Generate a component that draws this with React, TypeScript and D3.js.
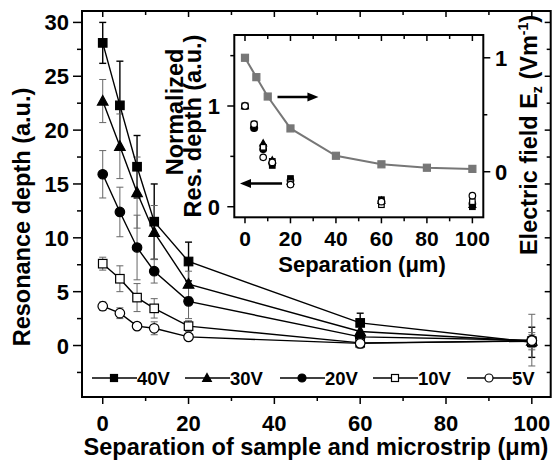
import React, { useRef, useEffect } from 'react';
import * as d3 from 'd3';

// separation (um) where resonance depth was measured
const separations = [0, 4, 8, 12, 20, 60, 100];

const seriesNames = ['40V', '30V', '20V', '10V', '5V'];
const depth40 = [28.1, 22.3, 16.6, 11.5, 7.8, 2.1, 0.3];
const depth30 = [22.7, 18.5, 14.2, 10.5, 5.7, 1.3, 0.4];
const depth20 = [15.9, 12.4, 9.1, 6.9, 4.1, 0.8, 0.5];
const depth10 = [7.6, 6.2, 4.45, 3.45, 1.8, 0.25, 0.4];
const depth5 = [3.65, 3.0, 1.8, 1.6, 0.8, 0.2, 0.45];

const err40 = [1.9, 4.1, 2.9, 3.5, 1.8, 0.9, 1.4];
const err30 = [2.0, 3.0, 3.3, 2.5, 1.2, 0.6, 0.8];
const err20 = [2.2, 2.3, 3.0, 1.1, 1.6, 0.5, 2.4];
const err10 = [0.6, 1.2, 1.3, 0.9, 0.5, 0.5, 0.6];
const err5 = [0.4, 0.5, 0.3, 0.6, 0.2, 0.3, 0.3];

// inset: normalized depth (left axis)
const norm40 = [1.0, 0.79, 0.59, 0.41, 0.28, 0.07, 0.0];
const norm30 = [1.0, 0.81, 0.63, 0.46, 0.25, 0.06, 0.02];
const norm20 = [1.0, 0.78, 0.57, 0.43, 0.26, 0.05, 0.03];
const norm10 = [1.0, 0.82, 0.59, 0.45, 0.24, 0.02, 0.05];
const norm5 = [1.0, 0.82, 0.49, 0.44, 0.22, 0.05, 0.11];

// inset: electric field Ez (right axis)
const fieldSep = [0, 5, 10, 20, 40, 60, 80, 100];
const fieldEz = [1.0, 0.83, 0.66, 0.38, 0.14, 0.065, 0.035, 0.025];

const FONT = '"Liberation Sans", Arial, sans-serif';
const W = 554;
const H = 460;
const TICK_FS = 22;
const TITLE_FS = 23.5;

const styles = [
  { shape: 'square', filled: true, errColor: '#000' },
  { shape: 'triangle', filled: true, errColor: '#666' },
  { shape: 'circle', filled: true, errColor: '#666' },
  { shape: 'square', filled: false, errColor: '#666' },
  { shape: 'circle', filled: false, errColor: '#666' },
];

function marker(g, shape, filled, cx, cy, s, color = '#000') {
  const fill = filled ? color : '#fff';
  if (shape === 'square') {
    g.append('rect').attr('x', cx - s / 2).attr('y', cy - s / 2)
      .attr('width', s).attr('height', s)
      .attr('fill', fill).attr('stroke', color).attr('stroke-width', 1.2);
  } else if (shape === 'circle') {
    g.append('circle').attr('cx', cx).attr('cy', cy).attr('r', s / 2 + 0.5)
      .attr('fill', fill).attr('stroke', color).attr('stroke-width', 1.2);
  } else {
    const h = s * 1.05;
    g.append('path')
      .attr('d', `M${cx},${cy - h * 0.62}L${cx + s * 0.62},${cy + h * 0.45}L${cx - s * 0.62},${cy + h * 0.45}Z`)
      .attr('fill', fill).attr('stroke', color).attr('stroke-width', 1.2);
  }
}

export default function App() {
  const svgRef = useRef();

  useEffect(() => {
    const svg = d3.select(svgRef.current);
    svg.selectAll('*').remove();

    const depths = [depth40, depth30, depth20, depth10, depth5];
    const errs = [err40, err30, err20, err10, err5];
    const norms = [norm40, norm30, norm20, norm10, norm5];

    // ---- main plot ----
    const box = { l: 82, r: 550.7, t: 11, b: 397 };
    const x = d3.scaleLinear().domain([-4.83, 104.4]).range([box.l, box.r]);
    const y = d3.scaleLinear().domain([-4.78, 31.06]).range([box.b, box.t]);

    const axes = svg.append('g').attr('stroke', '#000');
    // bottom ticks (outward) and top ticks (inward)
    d3.range(0, 101, 10).forEach(v => {
      const major = v % 20 === 0;
      axes.append('line').attr('x1', x(v)).attr('x2', x(v))
        .attr('y1', box.b).attr('y2', box.b + (major ? 7 : 4)).attr('stroke-width', 1.5);
      axes.append('line').attr('x1', x(v)).attr('x2', x(v))
        .attr('y1', box.t).attr('y2', box.t + (major ? 6 : 4)).attr('stroke-width', 1.5);
    });
    d3.range(-2.5, 31, 2.5).forEach(v => {
      const major = Math.abs(v % 5) < 1e-6;
      axes.append('line').attr('x1', box.l).attr('x2', box.l - (major ? 9 : 5))
        .attr('y1', y(v)).attr('y2', y(v)).attr('stroke-width', 1.5);
      axes.append('line').attr('x1', box.r).attr('x2', box.r - (major ? 6 : 4))
        .attr('y1', y(v)).attr('y2', y(v)).attr('stroke-width', 1.5);
    });

    const labels = svg.append('g').attr('font-family', FONT).attr('font-weight', 'bold');
    d3.range(0, 101, 20).forEach(v => {
      labels.append('text').attr('x', x(v)).attr('y', 431)
        .attr('text-anchor', 'middle').attr('font-size', TICK_FS).text(v);
    });
    d3.range(0, 31, 5).forEach(v => {
      labels.append('text').attr('x', 69).attr('y', y(v) + 8)
        .attr('text-anchor', 'end').attr('font-size', TICK_FS).text(v);
    });
    labels.append('text').attr('x', 316).attr('y', 455)
      .attr('text-anchor', 'middle').attr('font-size', TITLE_FS)
      .text('Separation of sample and microstrip (\u03bcm)');
    labels.append('text').attr('transform', 'translate(30,217) rotate(-90)')
      .attr('text-anchor', 'middle').attr('font-size', TITLE_FS)
      .text('Resonance depth (a.u.)');

    // error bars
    const plot = svg.append('g');
    depths.forEach((vals, i) => {
      const st = styles[i];
      vals.forEach((v, j) => {
        const e = errs[i][j];
        const cx = x(separations[j]);
        const g = plot.append('g').attr('stroke', st.errColor)
          .attr('stroke-width', i === 0 ? 1.4 : 1);
        g.append('line').attr('x1', cx).attr('x2', cx).attr('y1', y(v - e)).attr('y2', y(v + e));
        g.append('line').attr('x1', cx - 3.5).attr('x2', cx + 3.5).attr('y1', y(v - e)).attr('y2', y(v - e));
        g.append('line').attr('x1', cx - 3.5).attr('x2', cx + 3.5).attr('y1', y(v + e)).attr('y2', y(v + e));
      });
    });
    // lines
    const line = d3.line().x((d, j) => x(separations[j])).y(d => y(d));
    depths.forEach(vals => {
      plot.append('path').attr('d', line(vals)).attr('fill', 'none')
        .attr('stroke', '#000').attr('stroke-width', 1.4);
    });
    // markers
    depths.forEach((vals, i) => {
      const st = styles[i];
      vals.forEach((v, j) => marker(plot, st.shape, st.filled, x(separations[j]), y(v), 8.5));
    });

    // legend
    const legX = [92, 185, 280, 373, 467];
    const leg = svg.append('g');
    seriesNames.forEach((name, i) => {
      const ly = 378;
      leg.append('line').attr('x1', legX[i]).attr('x2', legX[i] + 45)
        .attr('y1', ly).attr('y2', ly).attr('stroke', '#000').attr('stroke-width', 1.4);
      marker(leg, styles[i].shape, styles[i].filled, legX[i] + 22, ly, 7);
      leg.append('text').attr('x', legX[i] + 45).attr('y', ly + 7)
        .attr('font-family', FONT).attr('font-weight', 'bold').attr('font-size', 18.5)
        .text(name);
    });

    // frame
    svg.append('rect').attr('x', box.l).attr('y', box.t)
      .attr('width', box.r - box.l).attr('height', box.b - box.t)
      .attr('fill', 'none').attr('stroke', '#000').attr('stroke-width', 2);

    // ---- inset ----
    const ib = { l: 234.3, r: 483.3, t: 35, b: 217.3 };
    const ix = d3.scaleLinear().domain([-4.7, 104.8]).range([ib.l, ib.r]);
    const iyL = d3.scaleLinear().domain([-0.105, 1.705]).range([ib.b, ib.t]);
    const iyR = d3.scaleLinear().domain([-0.4, 1.2]).range([ib.b, ib.t]);

    const inset = svg.append('g');
    inset.append('rect').attr('x', ib.l).attr('y', ib.t)
      .attr('width', ib.r - ib.l).attr('height', ib.b - ib.t).attr('fill', '#fff');

    const it = inset.append('g').attr('stroke', '#000').attr('stroke-width', 1.5);
    d3.range(0, 101, 10).forEach(v => {
      const major = v % 20 === 0;
      it.append('line').attr('x1', ix(v)).attr('x2', ix(v))
        .attr('y1', ib.b).attr('y2', ib.b + (major ? 6 : 4));
      it.append('line').attr('x1', ix(v)).attr('x2', ix(v))
        .attr('y1', ib.t).attr('y2', ib.t + (major ? 6 : 4));
    });
    [0, 0.5, 1, 1.5].forEach(v => {
      const major = v % 1 === 0;
      it.append('line').attr('x1', ib.l).attr('x2', ib.l - (major ? 7 : 4))
        .attr('y1', iyL(v)).attr('y2', iyL(v));
    });
    [0, 0.5, 1].forEach(v => {
      const major = v % 1 === 0;
      it.append('line').attr('x1', ib.r).attr('x2', ib.r + (major ? 7 : 4))
        .attr('y1', iyR(v)).attr('y2', iyR(v));
    });

    const il = inset.append('g').attr('font-family', FONT).attr('font-weight', 'bold');
    d3.range(0, 101, 20).forEach(v => {
      il.append('text').attr('x', ix(v)).attr('y', 246)
        .attr('text-anchor', 'middle').attr('font-size', 21).text(v);
    });
    [0, 1].forEach(v => {
      il.append('text').attr('x', 220).attr('y', iyL(v) + 8)
        .attr('text-anchor', 'end').attr('font-size', TICK_FS).text(v);
      il.append('text').attr('x', 495).attr('y', iyR(v) + 8)
        .attr('font-size', TICK_FS).text(v);
    });
    il.append('text').attr('x', 362).attr('y', 272)
      .attr('text-anchor', 'middle').attr('font-size', 22).text('Separation (\u03bcm)');
    il.append('text').attr('transform', 'translate(183,112) rotate(-90)')
      .attr('text-anchor', 'middle').attr('font-size', TITLE_FS).text('Normalized');
    il.append('text').attr('transform', 'translate(201,126) rotate(-90)')
      .attr('text-anchor', 'middle').attr('font-size', TITLE_FS).text('Res. depth (a.u.)');

    const rt = il.append('text').attr('transform', 'translate(537,135) rotate(-90)')
      .attr('text-anchor', 'middle').attr('font-size', TITLE_FS);
    rt.append('tspan').text('Electric field E');
    rt.append('tspan').attr('font-size', 14).attr('dy', 5).text('z');
    rt.append('tspan').attr('dy', -5).text(' (Vm');
    rt.append('tspan').attr('font-size', 14).attr('dy', -9).text('-1');
    rt.append('tspan').attr('dy', 9).text(')');

    // E-field curve
    const fLine = d3.line().x((d, j) => ix(fieldSep[j])).y(d => iyR(d));
    inset.append('path').attr('d', fLine(fieldEz)).attr('fill', 'none')
      .attr('stroke', '#777').attr('stroke-width', 2);
    fieldEz.forEach((v, j) => marker(inset, 'square', true, ix(fieldSep[j]), iyR(v), 7, '#777'));

    // normalized markers
    norms.forEach((vals, i) => {
      vals.forEach((v, j) => marker(inset, styles[i].shape, styles[i].filled, ix(separations[j]), iyL(v), 5.5));
    });

    // arrows
    const arrow = (x1, x2, yy) => {
      const dir = Math.sign(x2 - x1);
      inset.append('line').attr('x1', x1).attr('x2', x2 - dir * 8)
        .attr('y1', yy).attr('y2', yy).attr('stroke', '#000').attr('stroke-width', 2.5);
      inset.append('path')
        .attr('d', `M${x2},${yy}L${x2 - dir * 11},${yy - 4.5}L${x2 - dir * 11},${yy + 4.5}Z`)
        .attr('fill', '#000');
    };
    arrow(ix(14.3), ix(32.3), iyR(0.655));
    arrow(ix(16.3), ix(-2.2), iyL(0.23));

    inset.append('rect').attr('x', ib.l).attr('y', ib.t)
      .attr('width', ib.r - ib.l).attr('height', ib.b - ib.t)
      .attr('fill', 'none').attr('stroke', '#000').attr('stroke-width', 2);
  }, []);

  return (
    <svg ref={svgRef} width={W} height={H}
      style={{ position: 'absolute', left: 0, top: 0, background: '#fff' }} />
  );
}
